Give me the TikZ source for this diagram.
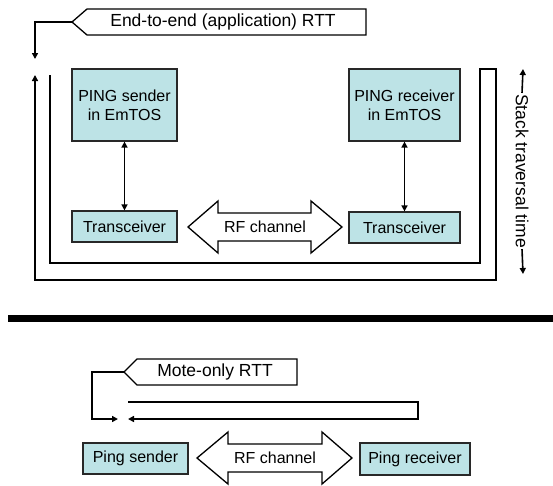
\documentclass[tikz,border=0pt]{standalone}
\usepackage{fontspec}
\setmainfont{Liberation Sans}
\usetikzlibrary{arrows.meta}
\definecolor{boxfill}{RGB}{189,227,230}
\definecolor{boxline}{RGB}{40,40,40}
\tikzset{
  mbox/.style={draw=boxline, fill=boxfill, line width=1.2pt, inner sep=0pt, align=center, font=\fontsize{16}{19}\selectfont},
  outline/.style={draw=black, line width=1.3pt, fill=white},
  lbl/.style={inner sep=0pt, font=\fontsize{17.5}{20}\selectfont},
  conn/.style={draw=black, line width=1.6pt},
  tip/.style={-{Triangle[length=6pt,width=6pt]}},
  tips/.style={{Triangle[length=6pt,width=6pt]}-{Triangle[length=6pt,width=6pt]}},
}
\begin{document}
\begin{tikzpicture}[x=1pt,y=-1pt]
\useasboundingbox (0,0) rectangle (553,485);

% ---------- top part ----------
\draw[outline] (72,22) -- (87,9) -- (366,9) -- (366,35) -- (87,35) -- cycle;
\node[lbl] (e2e) at (223,22) {End-to-end (application) RTT};
\coordinate (e2etip) at (72,22);
\coordinate (e2eend) at (35,59);
\draw[conn,tip] (e2etip) -- (35,22) -- (e2eend);

\node[mbox, minimum width=105pt, minimum height=72pt] (sender) at (124.5,105) {PING sender\\in EmTOS};
\node[mbox, minimum width=111pt, minimum height=72pt] (receiver) at (404.5,105) {PING receiver\\in EmTOS};
\node[mbox, minimum width=105pt, minimum height=31pt] (trL) at (124.5,226.5) {Transceiver};
\node[mbox, minimum width=111pt, minimum height=31pt] (trR) at (404.5,227.5) {Transceiver};

\draw[conn,tips] (sender.south) -- (trL.north);
\draw[conn,tips] (receiver.south) -- (trR.north);

% RF channel double arrow (top)
\draw[outline] (188,227) -- (218,201) -- (218,213) -- (311,213) -- (311,201) -- (342,227)
  -- (311,253) -- (311,241) -- (218,241) -- (218,253) -- cycle;
\node[lbl, font=\fontsize{16}{19}\selectfont] (rf1) at (265,227) {RF channel};

% stack frame
\coordinate (stackin) at (50,75);
\coordinate (stackout) at (35,75);
\draw[conn,tip] (stackin) -- (50,263) -- (480,263) -- (480,69) -- (496,69) -- (496,280) -- (35,280) -- (stackout);

% stack traversal time label
\node[lbl, rotate=-90, inner sep=1pt] (stt) at (522,171) {Stack traversal time};
\coordinate (sttop) at (523,69);
\coordinate (stbot) at (523,274);
\draw[conn,tip] (stt.west) -- (sttop);
\draw[conn,tip] (stt.east) -- (stbot);

% separator
\draw[line width=7pt] (8,318) -- (553,318);

% ---------- bottom part ----------
\draw[outline] (124,372) -- (137,359) -- (297,359) -- (297,385) -- (137,385) -- cycle;
\node[lbl] (mote) at (215,372) {Mote-only RTT};
\coordinate (motetip) at (124,372);
\coordinate (moteend) at (118,419);
\draw[conn,tip] (motetip) -- (92,372) -- (92,419) -- (moteend);
\coordinate (loopstart) at (128,402);
\coordinate (loopend) at (128,419);
\draw[conn,tip] (loopstart) -- (418,402) -- (418,419) -- (loopend);

\node[mbox, minimum width=105pt, minimum height=31pt] (ps) at (135.5,458.5) {Ping sender};
\node[mbox, minimum width=110pt, minimum height=32pt] (pr) at (415,459) {Ping receiver};

\draw[outline] (197,458) -- (228,432) -- (228,444) -- (322,444) -- (322,432) -- (352,458)
  -- (322,484) -- (322,472) -- (228,472) -- (228,484) -- cycle;
\node[lbl, font=\fontsize{16}{19}\selectfont] (rf2) at (275,458) {RF channel};
\end{tikzpicture}
\end{document}
